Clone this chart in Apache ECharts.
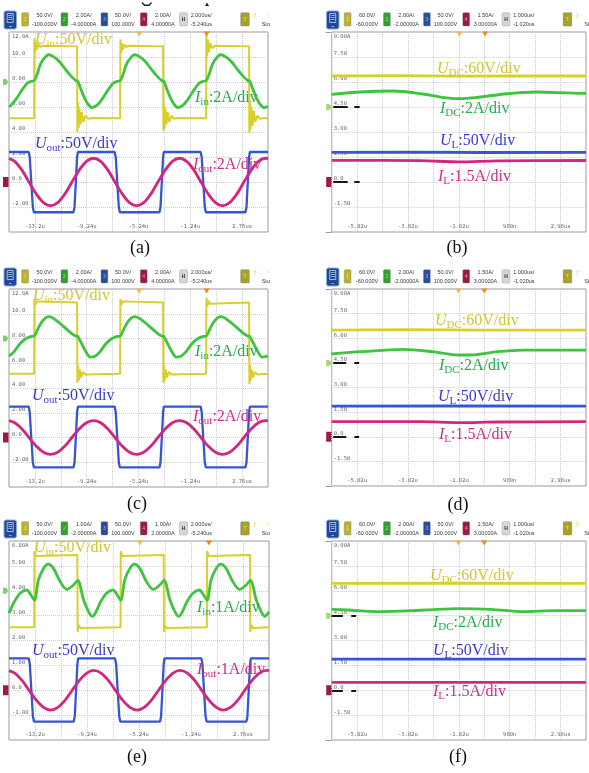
<!DOCTYPE html>
<html><head><meta charset="utf-8">
<script src="https://cdn.jsdelivr.net/npm/echarts@6/dist/echarts.min.js"></script>
<style>html,body{margin:0;padding:0;background:#fff}#c{width:589px;height:773px}</style>
</head><body><div id="c"></div>
<script>
// ---------- tick labels ----------
const xLabelsLeft  = ['', '-13.2u', '', '-9.24u', '', '-5.24u', '', '-1.24u', '', '2.76us', ''];
const xLabelsRight = ['', '-5.02u', '', '-3.02u', '', '-1.02u', '', '980n', '', '2.98us', ''];
const yLabelsAC    = ['', '-2.00', '0.0', '2.00', '4.00', '6.00', '8.00', '10.0', '12.0A'];
const yLabelsE     = ['', '-1.00', '0.0', '1.00', '2.00', '3.00', '4.00', '5.00', '6.00A'];
const yLabelsRight = ['', '-1.50', '0.0', '1.50', '3.00', '4.50', '6.00', '7.50', '9.00A'];

// ---------- header readouts ----------
const hdrAC = [['50.0V/','-100.000V'],['2.00A/','-4.00000A'],['50.0V/','100.000V'],['2.00A/','4.00000A'],['2.000us/','-5.240us']];
const hdrE  = [['50.0V/','-100.000V'],['1.00A/','-2.00000A'],['50.0V/','100.000V'],['1.00A/','2.00000A'],['2.000us/','-5.240us']];
const hdrR  = [['60.0V/','-60.000V'],['2.00A/','-2.00000A'],['50.0V/','100.000V'],['1.50A/','3.00000A'],['1.000us/','-1.020us']];

// ---------- channel labels ----------
const chanLeftAC = [['U','in',':50V/div'],['I','in',':2A/div'],['U','out',':50V/div'],['I','out',':2A/div']];
const chanLeftE  = [['U','in',':50V/div'],['I','in',':1A/div'],['U','out',':50V/div'],['I','out',':1A/div']];
const chanRight  = [['U','DC',':60V/div'],['I','DC',':2A/div'],['U','L',':50V/div'],['I','L',':1.5A/div']];

// ---------- waveform data: [time division, value] ----------
// (a)
const aUin = [[0,5.1],[0.97,5.1],[0.98,11.5],[1.01,10.3],[1.04,11.2],[1.08,10.6],[1.13,11.0],[1.2,10.8],[1.3,10.9],[2.63,10.85],
 [2.64,4.0],[2.66,6.4],[2.69,4.3],[2.72,5.9],[2.76,4.6],[2.81,5.6],[2.87,4.8],[2.95,5.3],[3.05,5.05],[3.2,5.12],[4.29,5.1],
 [4.30,11.4],[4.33,10.3],[4.36,11.1],[4.4,10.6],[4.45,11.0],[4.52,10.8],[4.62,10.9],[5.95,10.85],
 [5.96,4.1],[5.98,6.3],[6.01,4.3],[6.04,5.9],[6.08,4.6],[6.13,5.6],[6.19,4.8],[6.27,5.3],[6.37,5.05],[6.5,5.12],[7.61,5.1],
 [7.62,11.8],[7.65,10.1],[7.68,11.4],[7.72,10.4],[7.77,11.1],[7.84,10.7],[7.94,10.9],[9.27,10.85],
 [9.28,3.9],[9.30,6.5],[9.33,4.2],[9.36,6.0],[9.40,4.5],[9.45,5.7],[9.51,4.8],[9.59,5.3],[9.69,5.05],[9.84,5.12],[10,5.1]];
const aIin = [[0,6.0],[0.08,6.15],[0.28,6.65],[0.5,7.35],[0.7,7.9],[0.85,8.05],[0.98,8.12],[1.1,8.7],[1.22,9.45],[1.38,9.95],[1.53,10.18],
 [1.7,10.05],[1.95,9.62],[2.2,8.95],[2.45,8.35],[2.58,8.12],[2.66,8.05],[2.78,7.4],[2.92,6.7],[3.06,6.2],[3.21,5.95],[3.4,6.15],[3.6,6.65],
 [3.82,7.35],[4.02,7.9],[4.17,8.05],[4.30,8.12],[4.42,8.7],[4.54,9.45],[4.7,9.95],[4.85,10.18],[5.02,10.05],[5.27,9.62],[5.52,8.95],[5.77,8.35],
 [5.9,8.12],[5.98,8.05],[6.1,7.4],[6.24,6.7],[6.38,6.2],[6.53,5.95],[6.72,6.15],[6.92,6.65],[7.14,7.35],[7.34,7.9],[7.49,8.05],[7.62,8.12],
 [7.74,8.7],[7.86,9.45],[8.02,9.95],[8.17,10.18],[8.34,10.05],[8.59,9.62],[8.84,8.95],[9.09,8.35],[9.22,8.12],[9.3,8.05],[9.42,7.4],
 [9.56,6.7],[9.7,6.2],[9.85,5.95],[10,6.05]];
const aUout = [[0,2.4],[0.76,2.4],[0.8,2.0],[0.86,0],[0.92,-2.0],[0.96,-2.42],[2.49,-2.42],[2.53,-2.0],[2.58,0],[2.63,2.0],[2.66,2.4],
 [4.08,2.4],[4.12,2.0],[4.18,0],[4.24,-2.0],[4.28,-2.42],[5.81,-2.42],[5.85,-2.0],[5.9,0],[5.95,2.0],[5.98,2.4],
 [7.4,2.4],[7.44,2.0],[7.5,0],[7.56,-2.0],[7.6,-2.42],[9.13,-2.42],[9.17,-2.0],[9.22,0],[9.27,2.0],[9.3,2.4],[10,2.4]];
const aIout = [[0,1.89],[0.22,1.65],[0.5,0.95],[0.77,0],[1.05,-0.95],[1.33,-1.65],[1.6,-1.9],[1.88,-1.65],[2.16,-0.95],[2.43,0],[2.71,0.95],
 [2.99,1.65],[3.26,1.9],[3.54,1.65],[3.82,0.95],[4.09,0],[4.37,-0.95],[4.65,-1.65],[4.92,-1.9],[5.2,-1.65],[5.48,-0.95],[5.75,0],[6.03,0.95],
 [6.31,1.65],[6.58,1.9],[6.86,1.65],[7.14,0.95],[7.41,0],[7.69,-0.95],[7.97,-1.65],[8.24,-1.9],[8.52,-1.65],[8.8,-0.95],[9.07,0],[9.35,0.95],
 [9.63,1.65],[9.9,1.9],[10,1.88]];
// (c)
const cUin = [[0,5.15],[0.97,5.15],[0.98,11.2],[1.02,10.7],[1.06,11.0],[1.12,10.85],[2.63,10.9],[2.64,4.4],[2.66,5.8],[2.69,4.6],[2.73,5.5],
 [2.78,4.85],[2.85,5.3],[2.95,5.1],[4.29,5.15],[4.30,11.2],[4.34,10.7],[4.38,11.0],[4.44,10.85],[5.95,10.9],[5.96,4.4],[5.98,5.8],[6.01,4.6],
 [6.05,5.5],[6.1,4.85],[6.17,5.3],[6.27,5.1],[7.61,5.15],[7.62,11.3],[7.66,10.6],[7.7,11.05],[7.76,10.8],[9.27,10.9],[9.28,4.3],[9.3,5.9],
 [9.33,4.6],[9.37,5.5],[9.42,4.85],[9.49,5.3],[9.59,5.1],[10,5.15]];
const cIin = [[0,6.57],[0.18,6.9],[0.43,7.6],[0.66,8.0],[0.83,8.15],[0.98,8.2],[1.1,8.7],[1.25,9.3],[1.4,9.65],[1.54,9.76],[1.7,9.65],
 [1.95,9.25],[2.2,8.8],[2.45,8.35],[2.58,8.2],[2.66,8.15],[2.8,7.6],[2.95,7.0],[3.14,6.5],[3.3,6.55],[3.5,6.9],[3.75,7.6],[3.98,8.0],
 [4.15,8.15],[4.3,8.2],[4.42,8.7],[4.57,9.3],[4.72,9.65],[4.86,9.76],[5.02,9.65],[5.27,9.25],[5.52,8.8],[5.77,8.35],[5.9,8.2],[5.98,8.15],
 [6.12,7.6],[6.27,7.0],[6.46,6.5],[6.62,6.55],[6.82,6.9],[7.07,7.6],[7.3,8.0],[7.47,8.15],[7.62,8.2],[7.74,8.7],[7.89,9.3],[8.04,9.65],
 [8.18,9.76],[8.34,9.65],[8.59,9.25],[8.84,8.8],[9.09,8.35],[9.22,8.2],[9.3,8.15],[9.44,7.6],[9.59,7.0],[9.78,6.5],[9.94,6.55],[10,6.6]];
const cUout = [[0,2.5],[0.76,2.5],[0.8,2.05],[0.86,0],[0.92,-2.0],[0.96,-2.42],[2.49,-2.42],[2.53,-2.0],[2.58,0],[2.63,2.05],[2.66,2.5],
 [4.08,2.5],[4.12,2.05],[4.18,0],[4.24,-2.0],[4.28,-2.42],[5.81,-2.42],[5.85,-2.0],[5.9,0],[5.95,2.05],[5.98,2.5],
 [7.4,2.5],[7.44,2.05],[7.5,0],[7.56,-2.0],[7.6,-2.42],[9.13,-2.42],[9.17,-2.0],[9.22,0],[9.27,2.05],[9.3,2.5],[10,2.5]];
const cIout = [[0,1.36],[0.22,1.19],[0.5,0.69],[0.77,0],[1.05,-0.69],[1.33,-1.19],[1.6,-1.37],[1.88,-1.19],[2.16,-0.69],[2.43,0],[2.71,0.69],
 [2.99,1.19],[3.26,1.37],[3.54,1.19],[3.82,0.69],[4.09,0],[4.37,-0.69],[4.65,-1.19],[4.92,-1.37],[5.2,-1.19],[5.48,-0.69],[5.75,0],[6.03,0.69],
 [6.31,1.19],[6.58,1.37],[6.86,1.19],[7.14,0.69],[7.41,0],[7.69,-0.69],[7.97,-1.19],[8.24,-1.37],[8.52,-1.19],[8.8,-0.69],[9.07,0],[9.35,0.69],
 [9.63,1.19],[9.9,1.37],[10,1.36]];
// (e)
const eUin = [[0,2.53],[0.97,2.53],[0.98,5.6],[1.03,5.4],[1.1,5.46],[2.63,5.44],[2.64,2.35],[2.68,2.62],[2.74,2.5],[4.29,2.53],[4.30,5.6],
 [4.35,5.4],[4.42,5.46],[5.95,5.44],[5.96,2.35],[6.0,2.62],[6.06,2.5],[7.61,2.53],[7.62,5.6],[7.67,5.4],[7.74,5.46],[9.27,5.44],[9.28,2.35],
 [9.32,2.62],[9.38,2.5],[10,2.53]];
const eIin = [[0,3.1],[0.2,3.55],[0.43,3.9],[0.68,4.03],[0.83,3.85],[0.98,3.62],[1.13,4.43],[1.33,4.9],[1.5,5.07],[1.71,4.9],[1.97,4.36],
 [2.23,4.05],[2.48,4.23],[2.64,4.42],[2.87,3.63],[3.06,3.16],[3.2,2.97],[3.32,3.1],[3.52,3.55],[3.75,3.9],[4.0,4.03],[4.15,3.85],[4.3,3.62],
 [4.45,4.43],[4.65,4.9],[4.82,5.07],[5.03,4.9],[5.29,4.36],[5.55,4.05],[5.8,4.23],[5.96,4.42],[6.19,3.63],[6.38,3.16],[6.52,2.97],[6.64,3.1],
 [6.84,3.55],[7.07,3.9],[7.32,4.03],[7.47,3.85],[7.62,3.62],[7.77,4.43],[7.97,4.9],[8.14,5.07],[8.35,4.9],[8.61,4.36],[8.87,4.05],[9.12,4.23],
 [9.28,4.42],[9.51,3.63],[9.7,3.16],[9.84,2.97],[9.96,3.1],[10,3.15]];
const eUout = [[0,1.28],[0.76,1.28],[0.8,1.05],[0.86,0],[0.92,-1.05],[0.96,-1.26],[2.49,-1.26],[2.53,-1.05],[2.58,0],[2.63,1.05],[2.66,1.28],
 [4.08,1.28],[4.12,1.05],[4.18,0],[4.24,-1.05],[4.28,-1.26],[5.81,-1.26],[5.85,-1.05],[5.9,0],[5.95,1.05],[5.98,1.28],
 [7.4,1.28],[7.44,1.05],[7.5,0],[7.56,-1.05],[7.6,-1.26],[9.13,-1.26],[9.17,-1.05],[9.22,0],[9.27,1.05],[9.3,1.28],[10,1.28]];
const eIout = [[0,0.79],[0.22,0.69],[0.5,0.4],[0.77,0],[1.05,-0.4],[1.33,-0.69],[1.6,-0.8],[1.88,-0.69],[2.16,-0.4],[2.43,0],[2.71,0.4],
 [2.99,0.69],[3.26,0.8],[3.54,0.69],[3.82,0.4],[4.09,0],[4.37,-0.4],[4.65,-0.69],[4.92,-0.8],[5.2,-0.69],[5.48,-0.4],[5.75,0],[6.03,0.4],
 [6.31,0.69],[6.58,0.8],[6.86,0.69],[7.14,0.4],[7.41,0],[7.69,-0.4],[7.97,-0.69],[8.24,-0.8],[8.52,-0.69],[8.8,-0.4],[9.07,0],[9.35,0.4],
 [9.63,0.69],[9.9,0.8],[10,0.79]];
// (b)
const bUdc = [[0,6.36],[2.5,6.38],[5,6.35],[7.5,6.37],[10,6.36]];
const bIdc = [[0,5.26],[1.15,5.4],[2.43,5.46],[3.58,5.28],[4.34,5.08],[4.98,5.0],[5.75,5.08],[6.77,5.28],[8.05,5.4],[9.83,5.32],[10,5.32]];
const bUl  = [[0,1.78],[3,1.79],[6,1.77],[10,1.78]];
const bIl  = [[0,1.3],[3.5,1.28],[5,1.21],[6.5,1.27],[10,1.29]];
// (d)
const dUdc = [[0,6.5],[3,6.52],[6,6.49],[10,6.5]];
const dIdc = [[0,5.04],[1.15,5.18],[2.81,5.32],[3.96,5.18],[4.98,4.98],[5.49,4.98],[6.51,5.18],[7.53,5.28],[9.83,5.28],[10,5.28]];
const dUl  = [[0,1.87],[5,1.88],[10,1.87]];
const dIl  = [[0,0.92],[3.5,0.92],[5,0.86],[6.5,0.9],[10,0.92]];
// (f)
const fUdc = [[0,6.45],[5,6.46],[10,6.45]];
const fIdc = [[0,4.88],[0.63,4.84],[1.78,4.74],[3.7,4.84],[4.98,4.92],[6.26,4.88],[7.53,4.74],[8.81,4.8],[10,4.8]];
const fUl  = [[0,1.88],[5,1.88],[10,1.88]];
const fIl  = [[0,0.48],[5,0.47],[10,0.48]];

// ---------- styling ----------
const TRACE = ['#d9cf2b', '#3ec43e', '#3456d2', '#d4267f'];
const TEXTC = ['#d3c62e', '#22b04c', '#3a3ad4', '#d42a8c'];
const LBL = '#6e5e6e';

const panels = [
 {box:[9,32,259,200], yr:[-4,12,2], yl:yLabelsAC, xl:xLabelsLeft, tr:[aUin,aIin,aUout,aIout], sm:[false,true,false,true], hdr:hdrAC, hx:0, stop:'Sto',
  ch:chanLeftAC, chPos:[[35,40],[195,98],[35,144],[193,165]], cap:'(a)', capPos:[140,248], trig:[5.03,7.63], gl:8, lm:3, right:false},
 {box:[331.7,32,261,200], yr:[-3,9,1.5], yl:yLabelsRight, xl:xLabelsRight, tr:[bUdc,bIdc,bUl,bIl], sm:[false,true,false,true], hdr:hdrR, hx:322.5, stop:'Stop',
  ch:chanRight, chPos:[[437,69],[440,109],[440,141],[438,177]], cap:'(b)', capPos:[457,248], trig:[5.02,6.03], gl:4.5, lm:2, right:true, dash:[[0.06,0.63],[0.89,1.1]]},
 {box:[9,289,259,198], yr:[-4,12,2], yl:yLabelsAC, xl:xLabelsLeft, tr:[cUin,cIin,cUout,cIout], sm:[false,true,false,true], hdr:hdrAC, hx:0, stop:'Sto',
  ch:chanLeftAC, chPos:[[33,296],[195,352],[32,396],[193,417]], cap:'(c)', capPos:[137,504], trig:[5.03,7.63], gl:8, lm:3, right:false},
 {box:[331.7,289,261,197], yr:[-3,9,1.5], yl:yLabelsRight, xl:xLabelsRight, tr:[dUdc,dIdc,dUl,dIl], sm:[false,true,false,true], hdr:hdrR, hx:322.5, stop:'Stop',
  ch:chanRight, chPos:[[435,321],[439,366],[438,397],[439,435]], cap:'(d)', capPos:[458,505], trig:[4.98,6.0], gl:4.5, lm:2, right:true, dash:[[0.06,0.57],[0.89,1.08]]},
 {box:[9,541,260,199], yr:[-2,6,1], yl:yLabelsE, xl:xLabelsLeft, tr:[eUin,eIin,eUout,eIout], sm:[false,true,false,true], hdr:hdrE, hx:0, stop:'Sto',
  ch:chanLeftE, chPos:[[34,548],[197,608],[32,651],[197,670]], cap:'(e)', capPos:[137,757], trig:[5.03,7.69], gl:4, lm:3, right:false},
 {box:[331.7,541,261,199], yr:[-3,9,1.5], yl:yLabelsRight, xl:xLabelsRight, tr:[fUdc,fIdc,fUl,fIl], sm:[false,true,false,true], hdr:hdrR, hx:322.5, stop:'Stop',
  ch:chanRight, chPos:[[430,576],[433,623],[433,651],[433,692]], cap:'(f)', capPos:[458,757], trig:[4.98,6.0], gl:4.5, lm:2, right:true, dash:[[0.0,0.44],[0.77,0.96]]}
];

const grids=[], xAxes=[], yAxes=[], series=[], graphics=[];
const gridLine = {show:true, lineStyle:{color:'#cdcdcd', width:1, type:[1,1]}};

function header(x0, T, h, stop){
  const g = [];
  g.push({type:'rect', shape:{x:x0+4, y:T-21, width:12.5, height:18, r:2}, style:{fill:'#1d4996', stroke:'#8aa6dc', lineWidth:1}});
  g.push({type:'rect', shape:{x:x0+7.2, y:T-18.5, width:6, height:9}, style:{fill:'none', stroke:'#c8d4f0', lineWidth:0.8}});
  [T-16.5, T-14.5, T-12.5].forEach(yy => g.push({type:'line', shape:{x1:x0+8.3, y1:yy, x2:x0+12.3, y2:yy}, style:{stroke:'#c8d4f0', lineWidth:0.7}}));
  g.push({type:'line', shape:{x1:x0+9, y1:T-5.5, x2:x0+11.5, y2:T-5.5}, style:{stroke:'#c8d4f0', lineWidth:0.7}});
  const bx=[21.7,61,101,140.3], bc=['#bdb32c','#2f9f2f','#2a4c9c','#9c1a3c'], dc=['#efe37a','#98e898','#9fb6ee','#f09ab6'];
  const tc=[44.5,83.8,123,163];
  for (let k=0;k<4;k++){
    g.push({type:'rect', shape:{x:x0+bx[k], y:T-19.3, width:6.8, height:13.3, r:1}, style:{fill:bc[k], stroke:'#777', lineWidth:0.4}});
    g.push({type:'text', x:x0+bx[k]+3.4, y:T-12.6, style:{text:String(k+1), fill:dc[k], fontSize:5, fontFamily:'Liberation Sans', align:'center', verticalAlign:'middle'}});
    g.push({type:'text', x:x0+tc[k], y:T-17, style:{text:h[k][0], fill:'#3a3a3a', fontSize:5.5, fontFamily:'Liberation Sans', align:'center', verticalAlign:'middle'}});
    g.push({type:'text', x:x0+tc[k], y:T-8, style:{text:h[k][1], fill:'#3a3a3a', fontSize:5.5, fontFamily:'Liberation Sans', align:'center', verticalAlign:'middle'}});
  }
  g.push({type:'rect', shape:{x:x0+179.5, y:T-19.3, width:8, height:13.3, r:1.5}, style:{fill:'#d6d6d6', stroke:'#a8a8a8', lineWidth:0.5}});
  g.push({type:'text', x:x0+183.5, y:T-12.6, style:{text:'H', fill:'#333', fontSize:5, fontWeight:'bold', fontFamily:'Liberation Sans', align:'center', verticalAlign:'middle'}});
  g.push({type:'text', x:x0+190.7, y:T-17, style:{text:h[4][0], fill:'#3a3a3a', fontSize:5.5, fontFamily:'Liberation Sans', align:'left', verticalAlign:'middle'}});
  g.push({type:'text', x:x0+190.7, y:T-8, style:{text:h[4][1], fill:'#3a3a3a', fontSize:5.5, fontFamily:'Liberation Sans', align:'left', verticalAlign:'middle'}});
  g.push({type:'rect', shape:{x:x0+240.7, y:T-19.3, width:8.6, height:13.3, r:1}, style:{fill:'#aaa12a', stroke:'#777', lineWidth:0.4}});
  g.push({type:'text', x:x0+245, y:T-12.6, style:{text:'T', fill:'#ece27a', fontSize:5, fontFamily:'Liberation Sans', align:'center', verticalAlign:'middle'}});
  g.push({type:'text', x:x0+255, y:T-17, style:{text:'ƒ', fill:'#e3d43a', fontSize:6, fontFamily:'Liberation Sans', align:'center', verticalAlign:'middle'}});
  g.push({type:'text', x:x0+268, y:T-17, style:{text:'!', fill:'#e3d43a', fontSize:6, fontFamily:'Liberation Sans', align:'center', verticalAlign:'middle'}});
  g.push({type:'text', x:x0+261.7, y:T-8, style:{text:stop, fill:'#3a3a3a', fontSize:5.5, fontFamily:'Liberation Sans', align:'left', verticalAlign:'middle'}});
  return g;
}

function chanLabel(parts, pos, color){
  const fam = 'Liberation Serif';
  return {type:'text', x:pos[0], y:pos[1], z:100,
    style:{text:'{u|'+parts[0]+'}{s|'+parts[1]+'}{n|'+parts[2]+'}', align:'left', verticalAlign:'middle', fill:color,
      rich:{u:{fontSize:16, fontFamily:fam, fontStyle:'italic', lineHeight:20, fill:color},
            s:{fontSize:11, fontFamily:fam, lineHeight:11, verticalAlign:'bottom', fill:color},
            n:{fontSize:16, fontFamily:fam, lineHeight:20, fill:color}}}};
}

panels.forEach((p,i)=>{
  const [L,T,W,H] = p.box;
  const [ymin,ymax,ystep] = p.yr;
  grids.push({left:L, top:T, width:W, height:H, show:true, borderColor:'#9a9a9a', borderWidth:1, backgroundColor:'#fff'});
  xAxes.push({gridIndex:i, type:'value', min:0, max:10, interval:1,
    axisLine:{show:false}, axisTick:{show:false}, splitLine:gridLine,
    axisLabel:{inside:true, margin:2, fontSize:5.5, fontFamily:'DejaVu Sans Mono', color:LBL, formatter:v=>p.xl[Math.round(v)]||''}});
  yAxes.push({gridIndex:i, type:'value', min:ymin, max:ymax, interval:ystep,
    axisLine:{show:false}, axisTick:{show:false}, splitLine:gridLine,
    axisLabel:{inside:true, margin:p.lm, verticalAlign:'bottom', fontSize:5.5, fontFamily:'DejaVu Sans Mono', color:LBL,
      showMaxLabel:false, showMinLabel:false, formatter:v=>p.yl[Math.round((v-ymin)/ystep)]||''}});
  p.tr.forEach((d,k)=>{
    const w = (k===1||k===3) ? 2.8 : (p.right ? 2.8 : (k===0 ? 2.0 : 2.3));
    const s = {type:'line', xAxisIndex:i, yAxisIndex:i, data:d, symbol:'none', showSymbol:false, silent:true,
      smooth:p.sm[k]?0.3:false, lineStyle:{color:TRACE[k], width:w}, z:2+k, animation:false};
    if (k===0){
      s.markPoint = {symbol:'triangle', symbolSize:[6,5], symbolRotate:180, symbolOffset:[0,2], silent:true, animation:false,
        label:{show:false},
        data:[{coord:[p.trig[0], ymax], itemStyle:{color:'#f6b84a'}}, {coord:[p.trig[1], ymax], itemStyle:{color:'#ef8a1e'}}]};
    }
    if (k===2 && p.dash){
      const md = [];
      [p.gl, 0].forEach(lv => p.dash.forEach(dd => md.push([{coord:[dd[0], lv]}, {coord:[dd[1], lv]}])));
      s.markLine = {symbol:['none','none'], silent:true, animation:false, label:{show:false},
        lineStyle:{color:'#151515', width:2, type:'solid'}, data:md};
    }
    series.push(s);
  });
  // header
  graphics.push(...header(p.hx, T, p.hdr, p.stop));
  // frame extension to the left of the right-hand screens
  if (p.right){
    graphics.push({type:'line', shape:{x1:L-6, y1:T+0.5, x2:L, y2:T+0.5}, style:{stroke:'#9a9a9a', lineWidth:1}});
    graphics.push({type:'line', shape:{x1:L-6, y1:T+H+0.5, x2:L, y2:T+H+0.5}, style:{stroke:'#9a9a9a', lineWidth:1}});
  }
  // top y label
  graphics.push({type:'text', x:L+p.lm, y:T+1.5, style:{text:p.yl[p.yl.length-1], fill:LBL, fontSize:5.5, fontFamily:'DejaVu Sans Mono', align:'left', verticalAlign:'top'}});
  // channel labels
  p.ch.forEach((c,k)=>graphics.push(chanLabel(c, p.chPos[k], TEXTC[k])));
  // caption
  graphics.push({type:'text', x:p.capPos[0], y:p.capPos[1], style:{text:p.cap, fill:'#111', fontSize:18, fontFamily:'Liberation Serif', align:'center', verticalAlign:'middle'}});
  // side markers (channel 2 and channel 4 offsets)
  const yG = T + (ymax - p.gl)/(ymax-ymin)*H;
  const yR = T + (ymax - 0)/(ymax-ymin)*H;
  const mx = p.right ? L-5.5 : L-6;
  graphics.push({type:'polygon', shape:{points:[[mx,yG-3],[mx+3,yG-3],[mx+5.5,yG],[mx+3,yG+3],[mx,yG+3]]}, style:{fill:p.right?'#a6d86a':'#78d46a'}});
  graphics.push({type:'rect', shape:{x:mx, y:yR-5, width:5.5, height:10}, style:{fill:'#9c1b3e'}});
});

// cut-off glyphs at the very top
graphics.push({type:'polyline', shape:{points:[[142,2.5],[144.5,5.2],[149,5.2],[151.5,2.5]]}, style:{stroke:'#222', lineWidth:1.4, fill:'none'}});
graphics.push({type:'polygon', shape:{points:[[205,6],[207,2.5],[209,6]]}, style:{fill:'#222'}});

const chart = echarts.init(document.getElementById('c'), null, {renderer:'canvas', width:589, height:773});
chart.setOption({
  animation:false, backgroundColor:'#ffffff',
  grid:grids, xAxis:xAxes, yAxis:yAxes, series:series, graphic:graphics
});
</script></body></html>
